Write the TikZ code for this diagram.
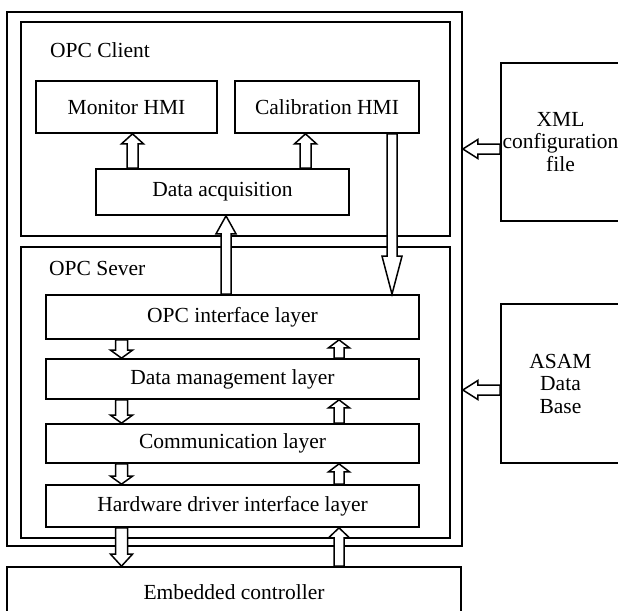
\documentclass[tikz,border=0pt]{standalone}
\usepackage{fontspec}
\setmainfont{Liberation Serif}
\usetikzlibrary{calc}

\newcommand{\lbl}{\fontsize{21.5}{22.5}\selectfont}

\tikzset{
  box/.style={draw, line width=1.7pt, rectangle, inner sep=0pt, align=center, font=\lbl},
  blk/.style={draw, fill=white, line width=1.5pt, line join=miter},
  tag/.style={inner sep=0pt, anchor=base west, font=\lbl},
}

% hollow block arrow: start, end, shaft half width, head half width, head length
\newcommand{\blockarrow}[5]{%
  \coordinate (ba-s) at (#1);
  \coordinate (ba-e) at (#2);
  \coordinate (ba-h) at ($(ba-e)!#5!(ba-s)$);
  \draw[blk] ($(ba-s)!#3!90:(ba-e)$) -- ($(ba-h)!#3!90:(ba-e)$)
    -- ($(ba-h)!#4!90:(ba-e)$) -- (ba-e) -- ($(ba-h)!#4!-90:(ba-e)$)
    -- ($(ba-h)!#3!-90:(ba-e)$) -- ($(ba-s)!#3!-90:(ba-e)$) -- cycle;
}

\begin{document}
\begin{tikzpicture}[x=1pt, y=-1pt]
\useasboundingbox (0,0) rectangle (618,610);
\clip (0,0) rectangle (618,610);

% containers
\node[box, minimum width=455pt, minimum height=534pt] (outer) at (234.5,279) {};
\node[box, minimum width=429pt, minimum height=214pt] (client) at (235.5,129) {};
\node[box, minimum width=429pt, minimum height=291pt] (server) at (235.5,392.5) {};

\node[tag] (clientlbl) at (50,57) {OPC Client};
\node[tag] (serverlbl) at (49,275) {OPC Sever};

% client blocks
\node[box, minimum width=181pt, minimum height=52pt] (mon) at (126.5,107) {Monitor HMI};
\node[box, minimum width=184pt, minimum height=52pt] (cal) at (327,107) {Calibration HMI};
\node[box, minimum width=253pt, minimum height=46pt] (acq) at (222.5,192) {Data acquisition};

% server layers
\node[box, minimum width=373pt, minimum height=44pt] (opcif) at (232.5,317) {OPC interface layer};
\node[box, minimum width=373pt, minimum height=40pt] (dm) at (232.5,379) {Data management layer};
\node[box, minimum width=373pt, minimum height=39pt] (comm) at (232.5,443.5) {Communication layer};
\node[box, minimum width=373pt, minimum height=42pt] (hw) at (232.5,506) {Hardware driver interface layer};

% external blocks
\node[box, minimum width=454pt, minimum height=50pt] (emb) at (234,592) {Embedded controller};
\node[box, minimum width=119pt, minimum height=158pt] (xml) at (560.5,142) {XML\\configuration\\file};
\node[box, minimum width=119pt, minimum height=159pt] (asam) at (560.5,383.5) {ASAM\\Data\\Base};

% arrow columns and rows
\coordinate (cMon) at (132.5,0);
\coordinate (cCal) at (305.5,0);
\coordinate (cDown) at (392,0);
\coordinate (cUp) at (226,0);
\coordinate (cL) at (121.5,0);
\coordinate (cR) at (339,0);
\coordinate (rX) at (0,149);
\coordinate (rA) at (0,390);

% client arrows
\blockarrow{acq.north -| cMon}{mon.south -| cMon}{5.5pt}{11pt}{10pt}
\blockarrow{acq.north -| cCal}{cal.south -| cCal}{5.5pt}{11pt}{10pt}
\blockarrow{cal.south -| cDown}{opcif.north -| cDown}{5pt}{10pt}{38pt}
\blockarrow{opcif.north -| cUp}{acq.south -| cUp}{5pt}{10pt}{18pt}

% layer arrows, downwards
\blockarrow{opcif.south -| cL}{dm.north -| cL}{6pt}{11pt}{8pt}
\blockarrow{dm.south -| cL}{comm.north -| cL}{6pt}{11pt}{8pt}
\blockarrow{comm.south -| cL}{hw.north -| cL}{6pt}{11pt}{8pt}
\blockarrow{hw.south -| cL}{emb.north -| cL}{6pt}{11pt}{12pt}

% layer arrows, upwards
\blockarrow{dm.north -| cR}{opcif.south -| cR}{5pt}{10.5pt}{8pt}
\blockarrow{comm.north -| cR}{dm.south -| cR}{5pt}{10.5pt}{8pt}
\blockarrow{hw.north -| cR}{comm.south -| cR}{5pt}{10.5pt}{8pt}
\blockarrow{emb.north -| cR}{hw.south -| cR}{5pt}{10.5pt}{10pt}

% external inputs
\blockarrow{xml.west |- rX}{outer.east |- rX}{5pt}{9.5pt}{15pt}
\blockarrow{asam.west |- rA}{outer.east |- rA}{5pt}{9.5pt}{15pt}
\end{tikzpicture}
\end{document}
